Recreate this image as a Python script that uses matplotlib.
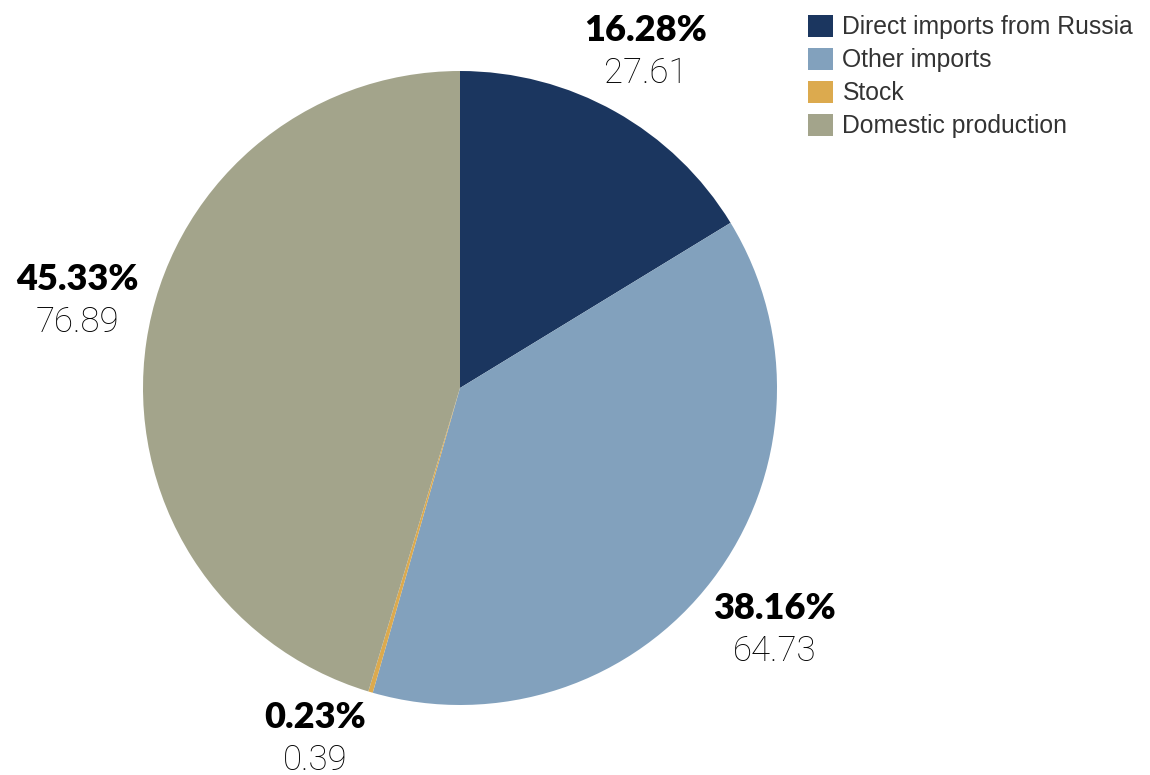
import numpy as np
import matplotlib.pyplot as plt
from matplotlib.patches import Patch

categories = ["Direct imports from Russia", "Other imports", "Stock", "Domestic production"]
values = [27.61, 64.73, 0.39, 76.89]
shares = [16.28, 38.16, 0.23, 45.33]
colors = ["#1b365f", "#82a1bd", "#dcaa4e", "#a3a48b"]

# small per-label nudges (data units) so labels sit where they read best
nudges = [(-0.022, -0.020), (0.006, -0.010), (-0.107, 0.084), (0.019, 0.094)]

fig = plt.figure(figsize=(11.5, 7.75), dpi=100)
ax = fig.add_axes([143 / 1150, 70 / 775, 634 / 1150, 634 / 775])

wedges, _ = ax.pie(
    values,
    colors=colors,
    startangle=90,
    counterclock=False,
    radius=1,
    wedgeprops={"linewidth": 0},
)
ax.set_xlim(-1, 1)
ax.set_ylim(-1, 1)
ax.set_aspect("equal")

for w, pct, val, (nx, ny) in zip(wedges, shares, values, nudges):
    ang = np.deg2rad((w.theta1 + w.theta2) / 2)
    x = 1.24 * np.cos(ang) + nx
    y = 1.24 * np.sin(ang) + ny
    ax.text(x, y + 0.015, f"{pct:.2f}%", ha="center", va="bottom",
            fontsize=26, fontweight="heavy", family="Lato",
            color="black", clip_on=False)
    ax.text(x, y - 0.015, f"{val:.2f}", ha="center", va="top",
            fontsize=25, fontweight="light", family="Roboto",
            color="black", clip_on=False)

handles = [Patch(facecolor=c, edgecolor="none") for c in colors]
fig.legend(
    handles, categories,
    loc="upper left",
    bbox_to_anchor=(798 / 1150, 1 - 5 / 775),
    frameon=False,
    prop={"family": "Liberation Sans", "size": 17.8},
    labelcolor="#333333",
    handlelength=1.0,
    handleheight=1.0,
    handletextpad=0.4,
    labelspacing=0.34,
    borderaxespad=0,
)

fig.savefig("out.png", dpi=100)
